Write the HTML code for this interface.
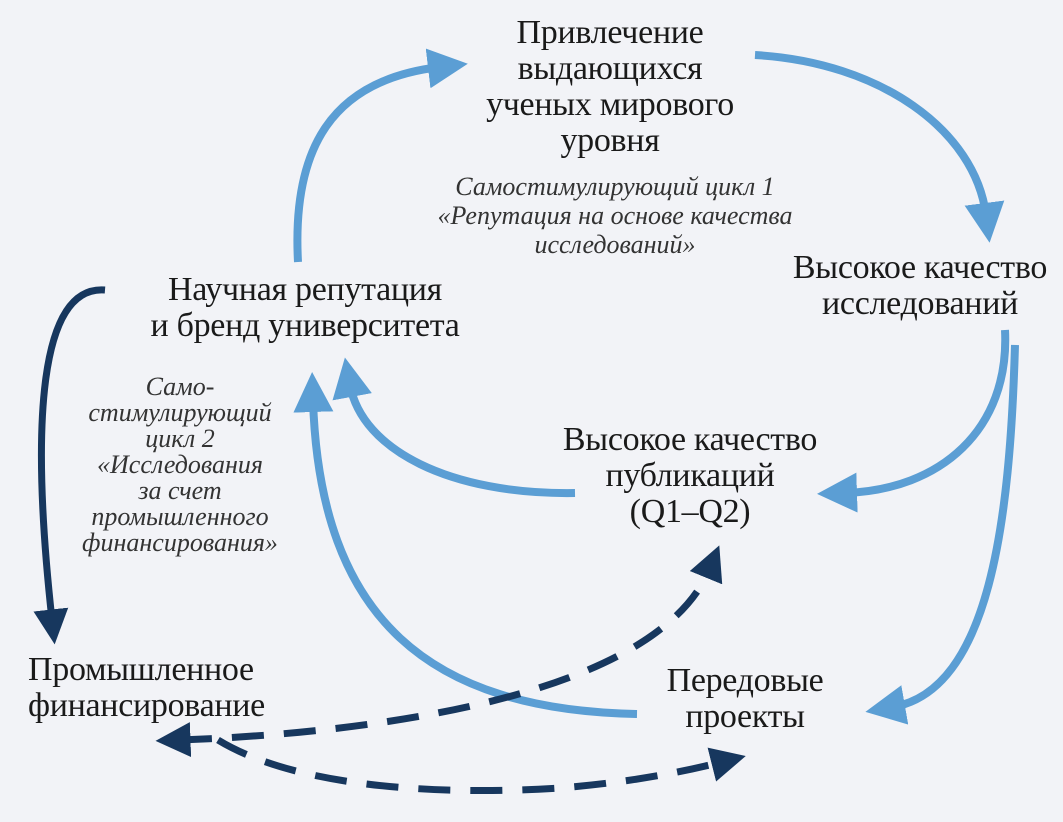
<!DOCTYPE html>
<html><head><meta charset="utf-8"><style>
html,body{margin:0;padding:0}
body{width:1063px;height:822px;background:#f2f3f7;position:relative;overflow:hidden;font-family:"Liberation Serif",serif;color:#1a1a1a}
.t{position:absolute;text-align:center;font-size:34px;line-height:36px;white-space:nowrap;letter-spacing:-0.3px}
.i{position:absolute;text-align:center;font-style:italic;font-size:26px;line-height:29px;color:#333;white-space:nowrap}
svg{position:absolute;left:0;top:0}
</style></head><body>
<svg width="1063" height="822" viewBox="0 0 1063 822">
<defs>
<marker id="lb" markerWidth="5" markerHeight="5" refX="1.5" refY="2.5" orient="auto-start-reverse" markerUnits="strokeWidth"><path d="M0,0 L5,2.5 L0,5 Z" fill="#5b9ed4"/></marker>
<marker id="db" markerWidth="5" markerHeight="5" refX="1.5" refY="2.5" orient="auto-start-reverse" markerUnits="strokeWidth"><path d="M0,0 L5,2.5 L0,5 Z" fill="#17375e"/></marker>
</defs>
<g fill="none" stroke="#5b9ed4" stroke-width="8" stroke-linecap="butt">
<path d="M298,262 C292,150 330,80 440,67" marker-end="url(#lb)"/>
<path d="M755,55 C880,62 975,130 986,215" marker-end="url(#lb)"/>
<path d="M1005,330 C1010,430 940,490 845,493" marker-end="url(#lb)"/>
<path d="M1015,345 C1010,520 990,690 893,707" marker-end="url(#lb)"/>
<path d="M575,493 C450,495 362,450 350,385" marker-end="url(#lb)"/>
<path d="M637,714 C430,710 320,620 313,400" marker-end="url(#lb)"/>
</g>
<g fill="none" stroke="#17375e" stroke-width="7">
<path d="M105,290 C40,285 30,420 52,620" marker-end="url(#db)"/>
<path d="M180,740 C400,732 660,690 710,568" stroke-dasharray="32,20" marker-start="url(#db)" marker-end="url(#db)"/>
<path d="M218,740 C300,790 450,795 560,788 C620,783 670,775 722,762" stroke-dasharray="32,20" marker-end="url(#db)"/>
</g>
</svg>
<div class="t" style="left:460px;top:15px;width:300px">Привлечение<br>выдающихся<br>ученых мирового<br>уровня</div>
<div class="i" style="left:380px;top:172px;width:470px">Самостимулирующий цикл 1<br>«Репутация на основе качества<br>исследований»</div>
<div class="t" style="left:760px;top:250px;width:320px">Высокое качество<br>исследований</div>
<div class="t" style="left:120px;top:272px;width:370px">Научная репутация<br>и бренд университета</div>
<div class="i" style="left:45px;top:374px;width:270px;line-height:26px">Само-<br>стимулирующий<br>цикл 2<br>«Исследования<br>за счет<br>промышленного<br>финансирования»</div>
<div class="t" style="left:520px;top:422px;width:340px">Высокое качество<br>публикаций<br>(Q1–Q2)</div>
<div class="t" style="left:0px;top:652px;width:330px;text-align:left;padding-left:28px">Промышленное<br>финансирование</div>
<div class="t" style="left:640px;top:663px;width:210px">Передовые<br>проекты</div>
</body></html>
